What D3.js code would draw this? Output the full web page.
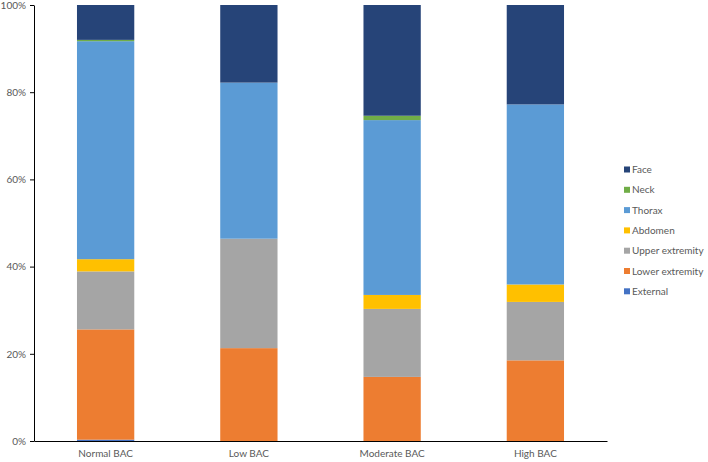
<!DOCTYPE html>
<html><head><meta charset="utf-8">
<script src="https://cdn.jsdelivr.net/npm/d3@7"></script>
<style>body{margin:0;background:#fff}svg{display:block}text{font-family:Lato,"Liberation Sans",sans-serif}</style>
</head><body><svg id="c" width="708" height="462"></svg>
<script>
const categories = ["Normal BAC","Low BAC","Moderate BAC","High BAC"];
const seriesNames = ["External","Lower extremity","Upper extremity","Abdomen","Thorax","Neck","Face"];
const seriesColors = ["#4472C4","#ED7D31","#A5A5A5","#FFC000","#5B9BD5","#70AD47","#264478"];
const External = [0.3, 0, 0, 0];
const LowerExtremity = [25.3, 21.3, 14.7, 18.5];
const UpperExtremity = [13.3, 25.1, 15.6, 13.4];
const Abdomen = [2.8, 0, 3.2, 4.0];
const Thorax = [50.0, 35.8, 40.1, 41.3];
const Neck = [0.3, 0, 1.0, 0];
const Face = [8.0, 17.8, 25.4, 22.8];
const yTicks = [0,0.2,0.4,0.6,0.8,1.0];

const seriesValues = [External, LowerExtremity, UpperExtremity, Abdomen, Thorax, Neck, Face];
const rows = categories.map((c,i)=>{
  const r = {cat:c};
  let tot = 0;
  seriesNames.forEach((s,j)=>{tot += seriesValues[j][i];});
  seriesNames.forEach((s,j)=>{r[s] = seriesValues[j][i]/tot;});
  return r;
});
const stacked = d3.stack().keys(seriesNames)(rows);

const svg = d3.select("#c");
const m = {l:34, r:101, t:5, b:21};
const W = 708, H = 462;
const x = d3.scaleBand().domain(categories).range([m.l, W-m.r]).paddingInner(0.6).paddingOuter(0.3);
const y = d3.scaleLinear().domain([0,1]).range([H-m.b, m.t]);
const color = d3.scaleOrdinal().domain(seriesNames).range(seriesColors);

svg.append("g").selectAll("g").data(stacked).join("g")
  .attr("fill", d=>color(d.key))
  .selectAll("rect").data(d=>d).join("rect")
  .attr("x", d=>x(d.data.cat))
  .attr("width", x.bandwidth())
  .attr("y", d=>y(d[1]))
  .attr("height", d=>Math.max(0, y(d[0])-y(d[1])));

const ya = svg.append("g").attr("transform",`translate(${m.l},0)`)
  .call(d3.axisLeft(y).tickValues(yTicks).tickFormat(d3.format(".0%")).tickSize(4).tickSizeOuter(0));
ya.select(".domain").attr("stroke","#000").attr("stroke-width",1);
ya.selectAll(".tick line").attr("stroke","#000");
ya.selectAll(".tick text").attr("fill","#595959").attr("font-size","10px").attr("x",-8);

const xa = svg.append("g").attr("transform",`translate(0,${H-m.b})`)
  .call(d3.axisBottom(x).tickSize(0).tickSizeOuter(0));
xa.select(".domain").attr("stroke","#000").attr("stroke-width",1);
xa.selectAll(".tick text").attr("fill","#595959").attr("font-size","10px").attr("dy","1.3em");

const leg = svg.append("g");
const legItems = seriesNames.slice().reverse();
legItems.forEach((s,i)=>{
  const gy = 169.5 + i*20.3;
  leg.append("rect").attr("x",624).attr("y",gy-3).attr("width",6).attr("height",6).attr("fill",color(s));
  leg.append("text").attr("x",632).attr("y",gy).attr("dy","0.35em").attr("font-size","10px").attr("fill","#595959").text(s);
});
</script></body></html>
